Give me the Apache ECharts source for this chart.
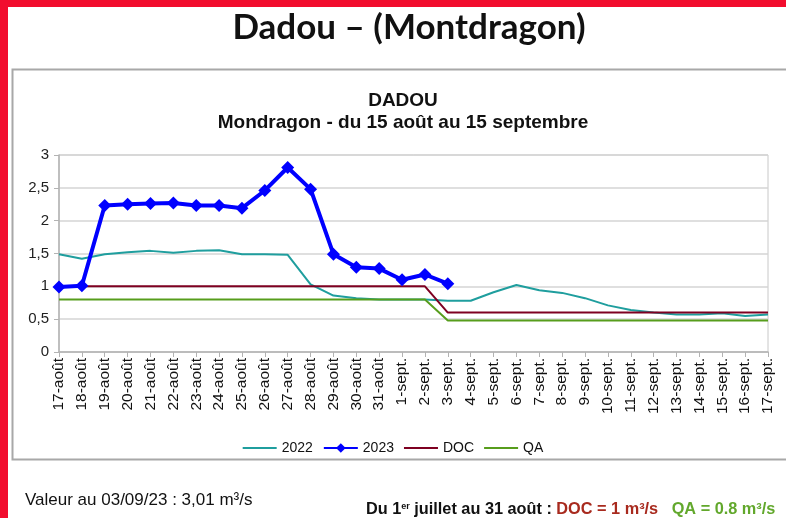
<!DOCTYPE html>
<html>
<head>
<meta charset="UTF-8">
<title>Dadou - Montdragon</title>
<script src="https://cdn.jsdelivr.net/npm/echarts@6/dist/echarts.min.js"></script>
<style>
  html, body { margin: 0; padding: 0; background: #fff; }
  #main { width: 786px; height: 518px; }
</style>
</head>
<body>
<div id="main"></div>
<script>
// categories (jours)
var days = ['17-août', '18-août', '19-août', '20-août', '21-août', '22-août', '23-août', '24-août',
  '25-août', '26-août', '27-août', '28-août', '29-août', '30-août', '31-août',
  '1-sept.', '2-sept.', '3-sept.', '4-sept.', '5-sept.', '6-sept.', '7-sept.', '8-sept.', '9-sept.',
  '10-sept.', '11-sept.', '12-sept.', '13-sept.', '14-sept.', '15-sept.', '16-sept.', '17-sept.'];

// débits (m3/s)
var q2022 = [1.49, 1.42, 1.49, 1.52, 1.54, 1.51, 1.54, 1.55, 1.49, 1.49, 1.48, 1.03, 0.86, 0.82, 0.80, 0.80,
  0.80, 0.78, 0.78, 0.91, 1.02, 0.94, 0.90, 0.82, 0.71, 0.64, 0.60, 0.57, 0.57, 0.59, 0.55, 0.57];
var q2023 = [0.99, 1.01, 2.23, 2.25, 2.26, 2.27, 2.23, 2.23, 2.19, 2.46, 2.81, 2.48, 1.49, 1.29, 1.27,
  1.10, 1.18, 1.04];
var doc = [1, 1, 1, 1, 1, 1, 1, 1, 1, 1, 1, 1, 1, 1, 1, 1, 1,
  0.6, 0.6, 0.6, 0.6, 0.6, 0.6, 0.6, 0.6, 0.6, 0.6, 0.6, 0.6, 0.6, 0.6, 0.6];
var qa = [0.8, 0.8, 0.8, 0.8, 0.8, 0.8, 0.8, 0.8, 0.8, 0.8, 0.8, 0.8, 0.8, 0.8, 0.8, 0.8, 0.8,
  0.48, 0.48, 0.48, 0.48, 0.48, 0.48, 0.48, 0.48, 0.48, 0.48, 0.48, 0.48, 0.48, 0.48, 0.48];

var chart = echarts.init(document.getElementById('main'));

// simple trait pour la légende des courbes sans marqueur
var lineIcon = 'path://M0,0H34V2H0Z';

var option = {
  animation: false,
  textStyle: { fontFamily: 'Liberation Sans' },
  title: [
    {
      text: 'Dadou – (Montdragon)',
      left: 404, top: 5, textAlign: 'center',
      textStyle: { fontFamily: 'Lato', fontSize: 35, fontWeight: 'bold', color: '#111' }
    },
    {
      text: 'DADOU\nMondragon - du 15 août au 15 septembre',
      left: 398, top: 85, textAlign: 'center',
      textStyle: { fontFamily: 'Liberation Sans', fontSize: 19, fontWeight: 'bold', color: '#111', lineHeight: 22 }
    }
  ],
  graphic: [
    { type: 'rect', shape: { x: 0, y: 0, width: 786, height: 7 }, style: { fill: '#f20d2e' } },
    { type: 'rect', shape: { x: 0, y: 0, width: 8, height: 518 }, style: { fill: '#f20d2e' } },
    { type: 'rect', shape: { x: 12.5, y: 69.5, width: 800, height: 390 },
      style: { fill: 'none', stroke: '#a8a8a8', lineWidth: 2 } },
    { type: 'text', left: 25, top: 492,
      style: { text: 'Valeur au 03/09/23 : 3,01 m³/s', fontFamily: 'Liberation Sans', fontSize: 17, fill: '#111' } },
    { type: 'text', left: 366, top: 502,
      style: {
        text: '{b|Du 1}{s|er}{b| juillet au 31 août : }{d|DOC = 1 m³/s}{b|   }{q|QA = 0.8 m³/s}',
        rich: {
          b: { fontFamily: 'Liberation Sans', fontSize: 16.3, fontWeight: 'bold', fill: '#111' },
          s: { fontFamily: 'Liberation Sans', fontSize: 9, fontWeight: 'bold', fill: '#111', verticalAlign: 'top' },
          d: { fontFamily: 'Liberation Sans', fontSize: 16.3, fontWeight: 'bold', fill: '#a82a1e' },
          q: { fontFamily: 'Liberation Sans', fontSize: 16.3, fontWeight: 'bold', fill: '#62a82c' }
        }
      }
    }
  ],
  legend: {
    top: 436, left: 'center',
    itemWidth: 34, itemHeight: 12, itemGap: 10,
    textStyle: { fontSize: 14, color: '#111' },
    data: [
      { name: '2022', icon: lineIcon },
      { name: '2023' },
      { name: 'DOC', icon: lineIcon },
      { name: 'QA', icon: lineIcon }
    ]
  },
  grid: { left: 59, right: 18, top: 155, bottom: 166, show: true, borderColor: '#c8c8c8', borderWidth: 1 },
  xAxis: {
    type: 'category',
    data: days,
    boundaryGap: false,
    axisLine: { lineStyle: { color: '#b3b3b3', width: 1.5 } },
    axisTick: { show: true, interval: 0, length: 5, lineStyle: { color: '#b3b3b3' } },
    axisLabel: { interval: 0, rotate: 90, fontSize: 15.5, color: '#111', margin: 6 }
  },
  yAxis: {
    type: 'value',
    min: 0, max: 3, interval: 0.5,
    axisLine: { show: true, lineStyle: { color: '#b3b3b3', width: 1.5 } },
    axisTick: { show: true, length: 5, lineStyle: { color: '#b3b3b3' } },
    splitLine: { lineStyle: { color: '#d4d4d4', width: 1.5 } },
    axisLabel: {
      fontSize: 15, color: '#222', margin: 10,
      formatter: function (v) { return String(v).replace('.', ','); }
    }
  },
  series: [
    {
      name: '2022', type: 'line', data: q2022,
      symbol: 'none', z: 2,
      lineStyle: { color: '#1f9e9e', width: 2 }, itemStyle: { color: '#1f9e9e' }
    },
    {
      name: '2023', type: 'line', data: q2023,
      symbol: 'diamond', symbolSize: 13, z: 5,
      lineStyle: { color: '#0000ff', width: 4 }, itemStyle: { color: '#0000ff' }
    },
    {
      name: 'DOC', type: 'line', data: doc,
      symbol: 'none', z: 3,
      lineStyle: { color: '#7e0021', width: 2 }, itemStyle: { color: '#7e0021' }
    },
    {
      name: 'QA', type: 'line', data: qa,
      symbol: 'none', z: 3,
      lineStyle: { color: '#579d1c', width: 2 }, itemStyle: { color: '#579d1c' }
    }
  ]
};

chart.setOption(option);
</script>
</body>
</html>
